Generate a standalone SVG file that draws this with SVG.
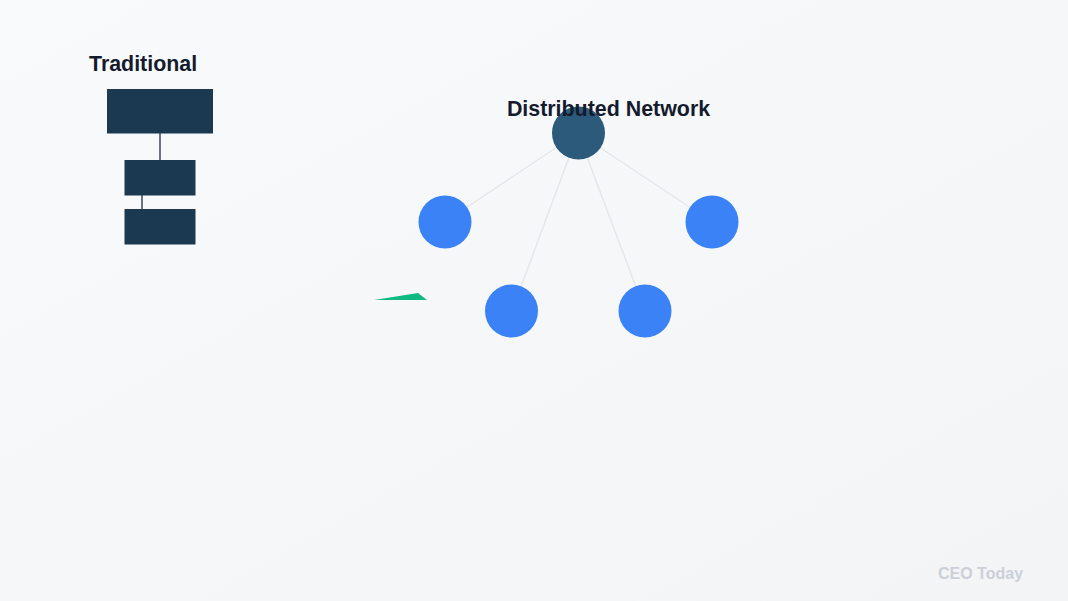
<svg xmlns="http://www.w3.org/2000/svg" width="1068" height="601" viewBox="0 0 1068 601">
<defs>
<linearGradient id="bg" x1="0" y1="0" x2="1" y2="1">
<stop offset="0" stop-color="#f9fafb"/>
<stop offset="1" stop-color="#f3f4f6"/>
</linearGradient>
<style>
.title{font-family:"Liberation Sans",Arial,sans-serif;font-weight:bold;font-size:21.4px;fill:#141b2d}
.box{fill:#1b3a52}
.tline{stroke:#6b7280;stroke-width:2}
.nline{stroke:#e5e7eb;stroke-width:1.5}
.leaf{fill:#3b82f6}
.hub{fill:#2c5a7a}
.brand{font-family:"Liberation Sans",Arial,sans-serif;font-weight:bold;font-size:16px;fill:#cbd0d8}
</style>
</defs>
<rect width="1068" height="601" fill="url(#bg)"/>
<text class="title" x="89" y="71">Traditional</text>
<g id="connectors">
<line class="tline" x1="160" y1="133" x2="160" y2="160"/>
<line class="tline" x1="142" y1="195" x2="142" y2="209"/>
<line class="nline" x1="578" y1="133" x2="445" y2="222"/>
<line class="nline" x1="578" y1="133" x2="712" y2="222"/>
<line class="nline" x1="578" y1="133" x2="512" y2="311"/>
<line class="nline" x1="578" y1="133" x2="645" y2="311"/>
</g>
<g id="box-top"><rect class="box" x="107" y="89" width="106" height="44.5"/></g>
<g id="box-mid"><rect class="box" x="124.5" y="160" width="71" height="35.5"/></g>
<g id="box-bottom"><rect class="box" x="124.5" y="209" width="71" height="35.5"/></g>
<g id="hub"><circle class="hub" cx="578.5" cy="133" r="26.5"/></g>
<g id="node-left"><circle class="leaf" cx="445" cy="222" r="26.5"/></g>
<g id="node-right"><circle class="leaf" cx="712" cy="222" r="26.5"/></g>
<g id="node-bl"><circle class="leaf" cx="511.5" cy="311" r="26.5"/></g>
<g id="node-br"><circle class="leaf" cx="645" cy="311" r="26.5"/></g>
<text class="title" x="608.5" y="116" text-anchor="middle">Distributed Network</text>
<polygon points="374,300 418,293 427,300" fill="#10b981"/>
<text class="brand" x="938" y="579">CEO Today</text>
</svg>
